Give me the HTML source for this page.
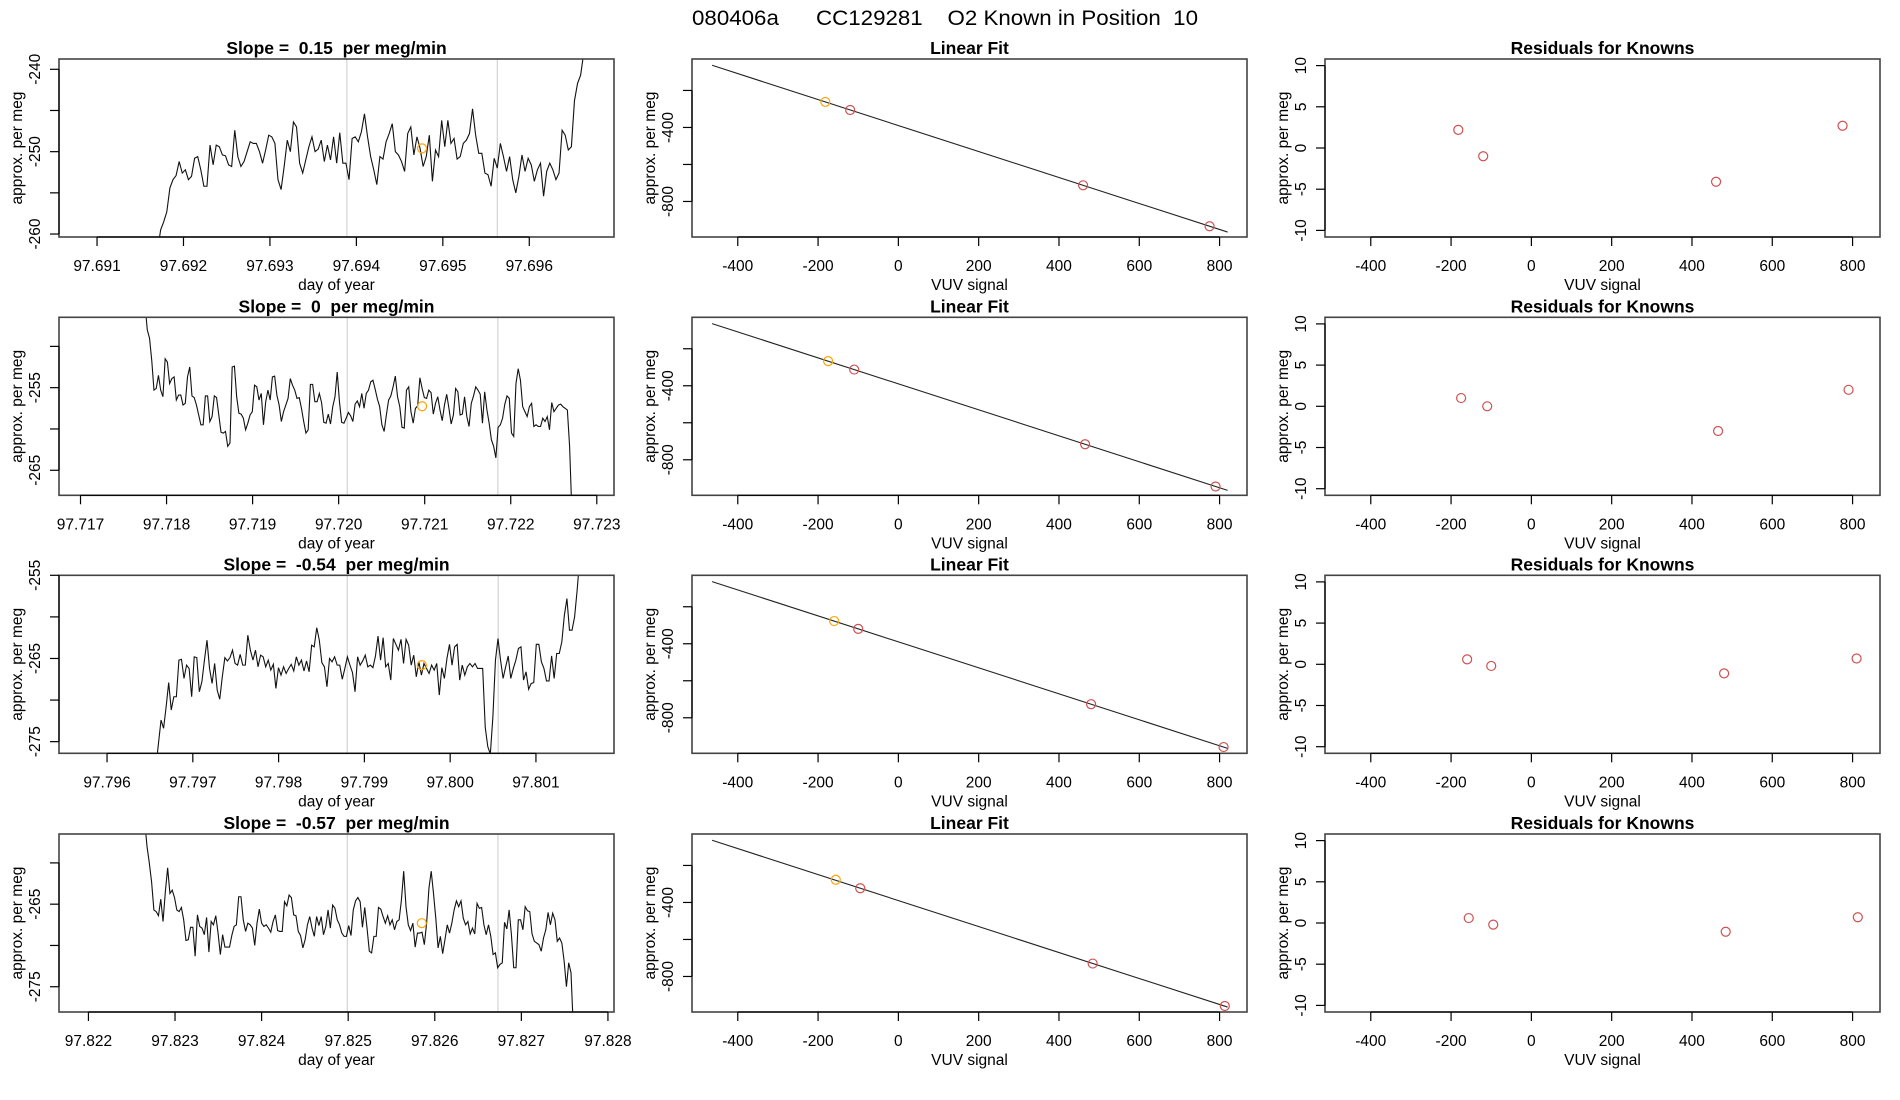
<!DOCTYPE html>
<html><head><meta charset="utf-8"><style>
html,body{margin:0;padding:0;background:#fff;}
svg{display:block;font-family:"Liberation Sans",sans-serif;}
svg text{white-space:pre;}
</style></head><body>
<svg id="fig" width="1900" height="1100" viewBox="0 0 1900 1100" xmlns="http://www.w3.org/2000/svg">
<rect x="0" y="0" width="1900" height="1100" fill="#fff"/>
<text x="945" y="25" font-size="21" text-anchor="middle" textLength="506" lengthAdjust="spacingAndGlyphs" xml:space="preserve">080406a      CC129281    O2 Known in Position  10</text>
</svg>
<script>
// ---------- data ----------
const slopeTitles = ["Slope =  0.15  per meg/min","Slope =  0  per meg/min","Slope =  -0.54  per meg/min","Slope =  -0.57  per meg/min"];
const tsStart = [97.69170, 97.71775, 97.79657, 97.82265];
const tsEnd   = [97.69663, 97.72271, 97.80151, 97.82760];
const xDomLo = [97.69056, 97.71675, 97.79544, 97.82166];
const xDomHi = [97.69698, 97.72320, 97.80191, 97.82807];
const yDomLo = [-260.36, -268.03, -276.4, -278.06];
const yDomHi = [-238.75, -246.48, -255.0, -256.5];
const xTicks0 = [97.691,97.692,97.693,97.694,97.695,97.696];
const xTicks1 = [97.717,97.718,97.719,97.720,97.721,97.722,97.723];
const xTicks2 = [97.796,97.797,97.798,97.799,97.800,97.801];
const xTicks3 = [97.822,97.823,97.824,97.825,97.826,97.827,97.828];
const yTicks0 = [-260,-255,-250,-245,-240];
const yLabels0 = [-260,-250,-240];
const yTicks1 = [-265,-260,-255,-250];
const yLabels1 = [-265,-255];
const yTicks2 = [-275,-270,-265,-260,-255];
const yLabels2 = [-275,-265,-255];
const yTicks3 = [-275,-270,-265,-260];
const yLabels3 = [-275,-265];
const windowLo = [97.69389, 97.72010, 97.79880, 97.82499];
const windowHi = [97.69563, 97.72185, 97.80056, 97.82673];
const knownT = [97.69476, 97.72097, 97.79967, 97.82585];
const knownV = [-249.6, -257.25, -265.8, -267.3];
const series0 = [-262,-259.5,-258.5,-257.3,-254.4,-253.4,-252.9,-251.2,-252.6,-252.2,-253.4,-253.0,-250.8,-250.6,-252.2,-254.2,-254.2,-249.2,-251.6,-249.2,-249.4,-250.4,-250.5,-251.6,-251.8,-247.4,-250.6,-251.8,-251.2,-250.0,-248.8,-249.0,-249.0,-250.0,-251.4,-249.8,-248.0,-248.2,-249.0,-253.4,-254.6,-251.8,-248.6,-250.0,-246.4,-247.0,-251.4,-252.6,-251.0,-249.4,-248.2,-250.0,-249.7,-248.6,-251.2,-249.2,-251.0,-248.2,-251.4,-247.7,-251.4,-251.4,-253.4,-248.4,-248.2,-248.8,-247.6,-245.4,-248.2,-250.6,-252.2,-254.0,-250.6,-250.9,-248.8,-247.8,-246.6,-250.0,-250.4,-251.2,-252.4,-247.8,-247.0,-250.4,-248.2,-249.6,-251.8,-250.6,-248.0,-253.6,-249.8,-250.6,-246.2,-249.4,-246.2,-249.0,-248.4,-250.9,-250.6,-249.0,-248.6,-247.8,-244.8,-248.0,-250.2,-250.2,-252.6,-252.8,-254.2,-250.8,-252.0,-249.0,-250.6,-252.4,-250.6,-253.4,-255.0,-253.0,-250.4,-252.4,-250.8,-251.6,-253.6,-252.2,-251.4,-255.4,-252.4,-251.4,-252.2,-253.4,-252.6,-247.4,-248.0,-249.8,-249.4,-243.8,-241.7,-240.7,-238];
const series1 = [-245,-248.0,-249.0,-251.7,-255.3,-255.1,-253.5,-255.3,-256.1,-251.5,-251.9,-254.5,-253.9,-253.7,-256.5,-255.9,-255.9,-257.1,-256.9,-253.7,-252.5,-256.0,-256.2,-257.1,-258.3,-259.5,-259.5,-256.0,-256.0,-259.1,-258.5,-256.0,-256.2,-258.3,-260.4,-260.5,-260.3,-262.1,-261.7,-252.5,-252.4,-256.1,-258.1,-258.2,-258.7,-260.1,-259.3,-258.3,-257.9,-254.7,-254.9,-256.5,-255.7,-259.5,-256.7,-255.3,-256.5,-253.7,-253.6,-255.9,-257.1,-259.1,-257.9,-257.1,-256.3,-253.9,-254.7,-255.3,-256.3,-256.2,-257.5,-259.1,-260.5,-260.1,-254.6,-254.6,-256.7,-256.7,-255.7,-256.8,-259.2,-259.3,-258.2,-259.4,-257.3,-256.1,-253.1,-256.7,-259.2,-259.3,-258.7,-258.0,-258.4,-259.1,-257.0,-256.6,-257.3,-255.7,-257.5,-255.7,-255.3,-254.3,-254.1,-255.2,-256.4,-257.3,-259.5,-260.3,-258.3,-256.5,-256.0,-254.9,-253.6,-256.1,-257.3,-259.8,-259.9,-255.3,-254.9,-257.9,-259.3,-257.5,-257.2,-253.8,-255.1,-256.2,-256.3,-255.3,-255.6,-258.2,-256.9,-256.1,-257.7,-259.0,-257.1,-255.8,-257.5,-259.4,-258.3,-255.1,-255.5,-258.3,-258.2,-256.1,-258.5,-259.7,-256.9,-256.0,-254.9,-255.3,-255.8,-259.3,-255.5,-257.7,-259.3,-261.3,-262.1,-263.5,-259.8,-259.5,-258.7,-257.0,-256.0,-256.3,-260.5,-260.9,-254.5,-252.7,-254.1,-257.3,-257.9,-258.5,-257.3,-256.9,-259.7,-259.5,-259.7,-259.7,-258.7,-259.1,-258.5,-260.1,-256.8,-257.9,-257.5,-257.1,-257.0,-257.3,-257.5,-257.7,-262.1,-270];
const series2 = [-278,-275.2,-272.4,-273.4,-270.8,-267.9,-271.2,-269.6,-269.6,-265.2,-265.1,-267.4,-265.8,-266.2,-269.6,-264.8,-264.9,-269.0,-267.8,-265.2,-262.8,-266.2,-268.0,-265.6,-268.8,-269.9,-267.2,-264.9,-265.3,-264.9,-264.0,-265.6,-265.8,-264.5,-265.8,-265.8,-262.2,-264.0,-265.2,-264.0,-266.0,-264.6,-264.8,-266.0,-265.2,-266.4,-265.7,-268.6,-266.1,-267.0,-266.0,-266.8,-266.2,-265.7,-266.5,-264.8,-265.8,-265.2,-266.5,-265.3,-266.6,-263.4,-263.6,-261.3,-262.8,-265.5,-266.0,-268.4,-265.0,-265.4,-264.8,-265.8,-265.8,-267.5,-266.2,-264.8,-265.8,-266.7,-269.0,-264.8,-265.8,-265.3,-264.6,-266.0,-265.8,-266.1,-264.7,-262.3,-265.2,-262.5,-266.0,-265.6,-267.6,-262.6,-263.3,-264.0,-262.7,-265.6,-262.7,-263.4,-265.8,-264.6,-267.2,-265.4,-267.0,-265.6,-266.2,-266.8,-265.8,-266.4,-265.6,-269.4,-266.1,-267.4,-265.0,-263.3,-265.8,-263.6,-263.3,-267.6,-265.8,-267.0,-266.0,-265.6,-266.0,-265.6,-266.2,-266.2,-266.2,-273.3,-275.6,-276.5,-272.0,-265.2,-262.6,-265.2,-267.4,-266.0,-264.7,-267.4,-266.2,-265.2,-263.8,-263.6,-267.6,-266.6,-268.7,-268.0,-267.9,-263.3,-263.3,-265.4,-266.2,-267.7,-267.7,-264.7,-267.4,-264.4,-264.4,-263.0,-259.8,-257.8,-261.6,-261.6,-260.0,-256.8,-253];
const series3 = [-255,-258.0,-260.0,-262.3,-265.7,-265.9,-266.4,-264.4,-267.1,-263.5,-260.6,-263.7,-263.3,-264.2,-265.7,-265.9,-265.4,-266.9,-269.4,-269.3,-267.8,-267.8,-271.3,-266.3,-267.7,-267.9,-268.7,-266.6,-270.8,-267.1,-267.5,-266.4,-268.5,-271.1,-268.7,-270.2,-270.2,-270.2,-268.8,-267.7,-267.5,-264.1,-264.1,-266.9,-268.3,-267.3,-267.5,-267.9,-270.0,-267.3,-265.6,-267.3,-267.7,-267.5,-267.9,-268.4,-267.1,-266.3,-268.2,-268.3,-268.3,-264.7,-265.2,-263.9,-264.2,-266.3,-266.4,-268.3,-268.8,-270.3,-269.3,-267.5,-266.5,-267.9,-268.9,-266.5,-267.6,-266.5,-268.7,-267.7,-265.7,-267.9,-265.1,-265.5,-266.9,-267.5,-268.5,-268.9,-268.9,-267.6,-268.8,-265.7,-264.6,-264.2,-264.7,-267.8,-265.4,-267.9,-270.7,-270.9,-268.9,-268.9,-265.4,-265.6,-266.5,-267.3,-266.4,-267.5,-266.9,-268.1,-267.1,-266.9,-264.5,-261.0,-265.3,-267.5,-268.2,-267.3,-270.2,-268.5,-268.5,-268.4,-269.9,-267.3,-263.1,-261.0,-263.7,-266.7,-270.3,-268.9,-271.0,-269.3,-267.5,-268.5,-267.3,-265.7,-264.6,-265.3,-264.6,-266.7,-267.5,-267.1,-268.6,-267.9,-268.6,-264.9,-265.5,-265.4,-267.5,-268.7,-267.5,-268.9,-271.1,-270.9,-272.7,-272.3,-272.1,-267.2,-268.0,-265.7,-268.7,-272.7,-272.7,-266.9,-266.9,-268.1,-265.3,-265.8,-265.9,-268.6,-269.5,-269.7,-269.9,-270.7,-269.1,-268.1,-266.0,-267.5,-266.1,-266.9,-269.5,-269.1,-269.7,-271.9,-275.0,-272.1,-273.3,-280];
const fitSlope = [-0.702, -0.702, -0.702, -0.702];
const fitIntercept = [-389.7, -389.7, -389.7, -389.7];
const fitXLo = -464, fitXHi = 820;
const vuvX0 = [-182,-120,460,775];
const vuvX1 = [-175,-110,465,790];
const vuvX2 = [-160,-100,480,810];
const vuvX3 = [-156,-95,484,813];
const fitY0 = [-262.0,-305.5,-712.6,-933.8];
const fitY1 = [-266.9,-312.5,-716.1,-944.3];
const fitY2 = [-277.4,-319.5,-726.7,-958.3];
const fitY3 = [-277.4,-323.0,-730.2,-959.7];
const resid0 = [2.2,-1.0,-4.1,2.7];
const resid1 = [1.0,0.0,-3.0,2.0];
const resid2 = [0.6,-0.2,-1.1,0.7];
const resid3 = [0.6,-0.2,-1.06,0.7];
const vuvTicks = [-400,-200,0,200,400,600,800];
const fitYTicks = [-800,-600,-400,-200];
const fitYLabels = [-800,-400];
const resTicks = [-10,-5,0,5,10];

// ---------- drawing ----------
const svg = document.getElementById('fig');
const NS = 'http://www.w3.org/2000/svg';
const colX = [59, 692, 1325], boxW = 555;
const rowY = [59, 317.3, 575.3, 834], boxH = 178;
const vuvLo = -514, vuvHi = 868.3;
const fitLo = -992, fitHi = -30;
const resLo = -10.8, resHi = 10.8;
const allSeries = [series0, series1, series2, series3];
const allXT = [xTicks0, xTicks1, xTicks2, xTicks3];
const allYT = [yTicks0, yTicks1, yTicks2, yTicks3];
const allYL = [yLabels0, yLabels1, yLabels2, yLabels3];
const allVX = [vuvX0, vuvX1, vuvX2, vuvX3];
const allFY = [fitY0, fitY1, fitY2, fitY3];
const allRes = [resid0, resid1, resid2, resid3];

function mk(tag, attrs, parent) {
  const e = document.createElementNS(NS, tag);
  for (const k in attrs) e.setAttribute(k, attrs[k]);
  (parent || svg).appendChild(e);
  return e;
}
function scale(d0, d1, r0, r1) { return v => r0 + (v - d0) / (d1 - d0) * (r1 - r0); }
function fmtTick(v, dec) { return v.toFixed(dec); }

function axes(g, x0, y0, sx, sy, xt, yt, yl, xdec, title, xlab) {
  const bottom = y0 + boxH;
  const b = mk('rect', {x: x0, y: y0, width: boxW, height: boxH, fill: 'none', stroke: '#444', 'stroke-width': 1.6}, g);
  
  
  const xa = mk('g', {}, g);
  
  
  mk('line', {x1: sx(xt[0]), x2: sx(xt[xt.length-1]), y1: bottom, y2: bottom, stroke: '#000', 'stroke-width': 1.2}, xa);
  xt.forEach(v => {
    const x = sx(v);
    mk('line', {x1: x, x2: x, y1: bottom, y2: bottom + 9, stroke: '#000', 'stroke-width': 1.2}, xa);
    const t = mk('text', {x: x, y: bottom + 34, 'font-size': 15.5, 'text-anchor': 'middle'}, xa);
    
    
    t.textContent = fmtTick(v, xdec);
  });
  const xl = mk('text', {x: x0 + boxW / 2, y: bottom + 53, 'font-size': 15.5, 'text-anchor': 'middle'}, g);
  
  
  xl.textContent = xlab;
  const ya = mk('g', {}, g);
  
  
  mk('line', {x1: x0, x2: x0, y1: sy(yt[0]), y2: sy(yt[yt.length-1]), stroke: '#000', 'stroke-width': 1.2}, ya);
  yt.forEach(v => {
    const y = sy(v);
    mk('line', {x1: x0 - 9, x2: x0, y1: y, y2: y, stroke: '#000', 'stroke-width': 1.2}, ya);
  });
  yl.forEach(v => {
    const y = sy(v);
    const t = mk('text', {x: 0, y: 0, 'font-size': 15.5, 'text-anchor': 'middle', transform: `translate(${x0 - 19},${y}) rotate(-90)`}, ya);
    
    
    t.textContent = String(v);
  });
  const ylab = mk('text', {x: 0, y: 0, 'font-size': 15.5, 'text-anchor': 'middle', transform: `translate(${x0 - 37},${y0 + boxH / 2}) rotate(-90)`}, g);
  
  
  ylab.textContent = 'approx. per meg';
  const tt = mk('text', {x: x0 + boxW / 2, y: y0 - 5, 'font-size': 17.5, 'font-weight': 'bold', 'text-anchor': 'middle', 'xml:space': 'preserve'}, g);
  
  
  tt.textContent = title;
}

const defs = mk('defs', {});
for (let r = 0; r < 4; r++) {
  const y0 = rowY[r];
  const cp = mk('clipPath', {id: 'clip' + r}, defs);
  mk('rect', {x: colX[0], y: y0, width: boxW, height: boxH}, cp);
  const g1 = mk('g', {});
  
  
  const sx = scale(xDomLo[r], xDomHi[r], colX[0], colX[0] + boxW);
  const sy = scale(yDomLo[r], yDomHi[r], y0 + boxH, y0);
  [windowLo[r], windowHi[r]].forEach(v => {
    const l = mk('line', {x1: sx(v), x2: sx(v), y1: y0, y2: y0 + boxH, stroke: '#d3d3d3', 'stroke-width': 1.2}, g1);
    
    
  });
  const s = allSeries[r];
  const step = (tsEnd[r] - tsStart[r]) / (s.length - 1);
  const pts = s.map((v, i) => sx(tsStart[r] + i * step).toFixed(2) + ',' + sy(v).toFixed(2)).join(' ');
  const pl = mk('polyline', {points: pts, fill: 'none', stroke: '#111', 'stroke-width': 1.1, 'clip-path': `url(#clip${r})`}, g1);
  
  
  const kc = mk('circle', {cx: sx(knownT[r]), cy: sy(knownV[r]), r: 4.5, fill: 'none', stroke: '#FFA500', 'stroke-width': 1.2}, g1);
  
  
  axes(g1, colX[0], y0, sx, sy, allXT[r], allYT[r], allYL[r], 3, slopeTitles[r], 'day of year');

  const g2 = mk('g', {});
  
  
  const fx = scale(vuvLo, vuvHi, colX[1], colX[1] + boxW);
  const fy = scale(fitLo, fitHi, y0 + boxH, y0);
  const fl = mk('line', {x1: fx(fitXLo), y1: fy(fitIntercept[r] + fitSlope[r] * fitXLo), x2: fx(fitXHi), y2: fy(fitIntercept[r] + fitSlope[r] * fitXHi), stroke: '#222', 'stroke-width': 1.1}, g2);
  
  
  allVX[r].forEach((v, i) => {
    const c = mk('circle', {cx: fx(v), cy: fy(allFY[r][i]), r: 4.5, fill: 'none', stroke: i === 0 ? '#FFA500' : '#d05050', 'stroke-width': 1.2}, g2);
    
    
  });
  axes(g2, colX[1], y0, fx, fy, vuvTicks, fitYTicks, fitYLabels, 0, 'Linear Fit', 'VUV signal');

  const g3 = mk('g', {});
  
  
  const rx = scale(vuvLo, vuvHi, colX[2], colX[2] + boxW);
  const ry = scale(resLo, resHi, y0 + boxH, y0);
  allVX[r].forEach((v, i) => {
    const c = mk('circle', {cx: rx(v), cy: ry(allRes[r][i]), r: 4.5, fill: 'none', stroke: '#d05050', 'stroke-width': 1.2}, g3);
    
    
  });
  axes(g3, colX[2], y0, rx, ry, vuvTicks, resTicks, resTicks, 0, 'Residuals for Knowns', 'VUV signal');
}
</script>
</body></html>
